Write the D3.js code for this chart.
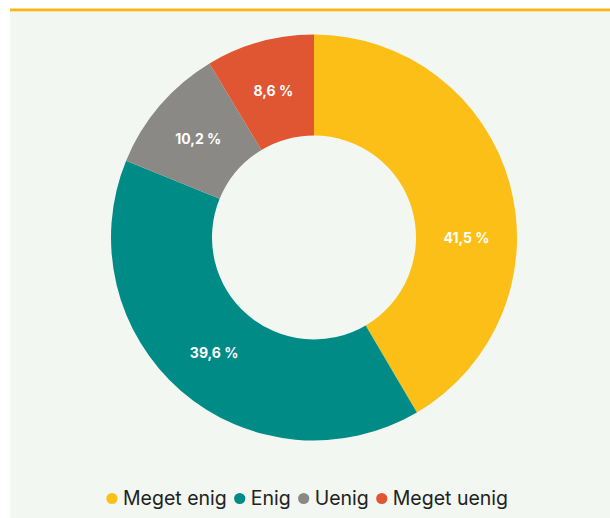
<!DOCTYPE html>
<html>
<head>
<meta charset="utf-8">
<script src="https://cdn.jsdelivr.net/npm/d3@7"></script>
<style>
  html, body { margin: 0; padding: 0; background: #ffffff; }
  svg { display: block; }
</style>
</head>
<body>
<svg id="chart" width="610" height="518"></svg>
<script>
const categories = ["Meget enig", "Enig", "Uenig", "Meget uenig"];
const values = [41.5, 39.6, 10.2, 8.6];
const labels = ["41,5 %", "39,6 %", "10,2 %", "8,6 %"];
const colors = ["#fbbf17", "#008b87", "#8b8985", "#e05532"];

const W = 610, H = 518;
const svg = d3.select("#chart");

// panel background + top rule
svg.append("rect").attr("x", 10).attr("y", 10).attr("width", W - 10).attr("height", H - 10).attr("fill", "#f3f7f1");
svg.append("rect").attr("x", 10).attr("y", 8.5).attr("width", W - 10).attr("height", 2.8).attr("fill", "#fbb615");

const cx = 314, cy = 237.5, outerR = 203, innerR = 102;
const g = svg.append("g").attr("transform", `translate(${cx},${cy})`);

const pie = d3.pie().sort(null).value(d => d);
const arcs = pie(values);
const arc = d3.arc().innerRadius(innerR).outerRadius(outerR);

g.selectAll("path.slice").data(arcs).join("path")
  .attr("class", "slice")
  .attr("d", arc)
  .attr("fill", (d, i) => colors[i]);

const labelR = (innerR + outerR) / 2;
g.selectAll("text.lbl").data(arcs).join("text")
  .attr("class", "lbl")
  .attr("x", d => {
    const a = Math.max((d.startAngle + d.endAngle) / 2, Math.PI / 2);
    return Math.sin(a) * labelR;
  })
  .attr("y", d => {
    const a = Math.max((d.startAngle + d.endAngle) / 2, Math.PI / 2);
    return -Math.cos(a) * labelR;
  })
  .attr("text-anchor", "middle")
  .attr("dominant-baseline", "central")
  .attr("fill", "#ffffff")
  .attr("font-family", "Inter, Roboto, sans-serif")
  .attr("font-weight", 700)
  .attr("font-size", 14)
  .text((d, i) => labels[i]);

// legend
const legend = svg.append("g");
const items = [];
let x = 0;
categories.forEach((c, i) => {
  const it = legend.append("g");
  it.append("circle").attr("cx", x + 6).attr("cy", -6.5).attr("r", 5.6).attr("fill", colors[i]);
  const t = it.append("text").attr("x", x + 17).attr("y", 0)
    .attr("font-family", "Inter, Roboto, sans-serif")
    .attr("font-size", 19.5)
    .attr("fill", "#222222")
    .text(c);
  const w = t.node().getComputedTextLength();
  x += 17 + w + 7;
});
const total = x - 7;
legend.attr("transform", `translate(${307 - total / 2},505)`);
</script>
</body>
</html>
